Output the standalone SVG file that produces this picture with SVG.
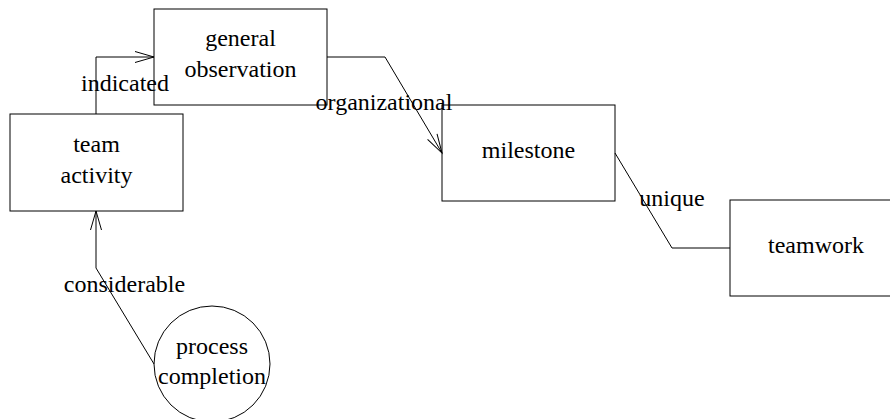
<svg xmlns="http://www.w3.org/2000/svg" width="890" height="419" viewBox="0 0 890 419">
<style>
.node{fill:none;stroke:#000;stroke-width:1}
text{font-family:'Liberation Serif',Tinos,'Times New Roman',Times,serif;font-size:24px;fill:#000;text-anchor:middle}
.edge{fill:none;stroke:#000;stroke-width:1}
</style>
<defs>
<marker id="arr" markerUnits="userSpaceOnUse" markerWidth="24" markerHeight="14" refX="20" refY="7" orient="auto">
<path d="M1,1.5 L20,7 L1,12.5" fill="none" stroke="#000" stroke-width="1"/>
</marker>
</defs>
<rect width="890" height="419" fill="#fff"/>
<g id="n-general-observation">
<rect class="node" x="154" y="9" width="173" height="96"/>
<text x="240.5" y="46" font-family="Liberation Serif, serif">general</text>
<text x="240.5" y="77" font-family="Liberation Serif, serif">observation</text>
</g>
<g id="n-team-activity">
<rect class="node" x="10" y="114" width="173" height="97"/>
<text x="96.5" y="152" font-family="Liberation Serif, serif">team</text>
<text x="96.5" y="183" font-family="Liberation Serif, serif">activity</text>
</g>
<g id="n-milestone">
<rect class="node" x="442" y="105" width="173" height="96"/>
<text x="528.5" y="158" font-family="Liberation Serif, serif">milestone</text>
</g>
<g id="n-teamwork">
<rect class="node" x="730" y="200" width="173" height="96"/>
<text x="816" y="253" font-family="Liberation Serif, serif">teamwork</text>
</g>
<g id="n-process-completion">
<circle class="node" cx="212" cy="364" r="58"/>
<text x="212" y="354" font-family="Liberation Serif, serif">process</text>
<text x="212" y="384" font-family="Liberation Serif, serif">completion</text>
</g>
<g id="connectors">
<g id="e-indicated">
<polyline class="edge" points="96,114 96,57 154,57" marker-end="url(#arr)"/>
<text x="125" y="91" font-family="Liberation Serif, serif">indicated</text>
</g>
<g id="e-organizational">
<polyline class="edge" points="327,57 385,57 442,153" marker-end="url(#arr)"/>
<text x="384" y="110" font-family="Liberation Serif, serif">organizational</text>
</g>
<g id="e-unique">
<polyline class="edge" points="615,153 672,248 730,248"/>
<text x="672" y="206" font-family="Liberation Serif, serif">unique</text>
</g>
<g id="e-considerable">
<polyline class="edge" points="154,364 96,268 96,211" marker-end="url(#arr)"/>
<text x="124.5" y="292" font-family="Liberation Serif, serif">considerable</text>
</g>
</g>
</svg>
